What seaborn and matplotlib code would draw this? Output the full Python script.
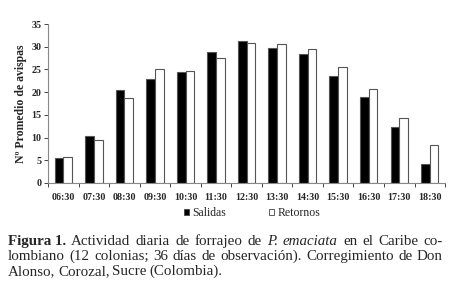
import numpy as np
import pandas as pd
import seaborn as sns
import matplotlib.pyplot as plt
from matplotlib.ticker import MultipleLocator, FixedLocator

horas = ["06:30", "07:30", "08:30", "09:30", "10:30", "11:30", "12:30",
         "13:30", "14:30", "15:30", "16:30", "17:30", "18:30"]
salidas = [5.5, 10.3, 20.5, 23.0, 24.4, 28.9, 31.3, 29.8, 28.3, 23.6, 19.0, 12.3, 4.2]
retornos = [5.8, 9.4, 18.8, 25.0, 24.7, 27.5, 30.8, 30.6, 29.4, 25.6, 20.6, 14.3, 8.3]
series = ["Salidas", "Retornos"]

df = pd.DataFrame({
    "hora": horas * 2,
    "valor": salidas + retornos,
    "serie": [series[0]] * len(horas) + [series[1]] * len(horas),
})

sns.set_style("white")
plt.rcParams["font.family"] = ["Liberation Serif", "DejaVu Serif"]

fig = plt.figure(figsize=(4.5, 2.9), dpi=100)
ax = fig.add_axes([0.107, 0.369, 0.882, 0.548])

sns.barplot(data=df, x="hora", y="valor", hue="serie", order=horas,
            hue_order=series, palette=["black", "white"], width=0.57, gap=0,
            edgecolor="#555555", linewidth=0.8, ax=ax, legend=False)

ax.set_ylim(0, 35)
ax.set_xlim(-0.5, len(horas) - 0.5)
ax.yaxis.set_major_locator(MultipleLocator(5))
ax.set_xlabel("")
ax.set_ylabel("Nº Promedio de avispas", fontsize=8.5, fontweight="bold", labelpad=3)
ax.tick_params(axis="x", which="major", length=0, labelsize=7.2, pad=7)
ax.tick_params(axis="y", which="major", length=3, width=0.6, labelsize=7.2,
               direction="out", left=True, pad=2)
ax.xaxis.set_minor_locator(FixedLocator(np.arange(-0.5, len(horas), 1)))
ax.tick_params(axis="x", which="minor", length=3, width=0.6, direction="out", bottom=True)
for lab in ax.get_xticklabels() + ax.get_yticklabels():
    lab.set_fontweight("bold")
sns.despine(ax=ax)
for s in ["left", "bottom"]:
    ax.spines[s].set_color("#888888")
    ax.spines[s].set_linewidth(0.8)

handles = [plt.Rectangle((0, 0), 1, 1, facecolor=c, edgecolor="#444444", linewidth=0.6)
           for c in ["black", "white"]]
fig.legend(handles, series, loc="center", bbox_to_anchor=(0.56, 0.265), ncol=2,
           frameon=False, prop={"family": ["Liberation Serif"], "size": 8.5},
           handlelength=0.45, handleheight=0.45, handletextpad=0.3, columnspacing=3.6)

# pie de figura, justificado
caption = [
    [("Figura 1.", "bold", "normal"), ("Actividad", "normal", "normal"), ("diaria", "normal", "normal"),
     ("de", "normal", "normal"), ("forrajeo", "normal", "normal"), ("de", "normal", "normal"),
     ("P.", "normal", "italic"), ("emaciata", "normal", "italic"), ("en", "normal", "normal"),
     ("el", "normal", "normal"), ("Caribe", "normal", "normal"), ("co-", "normal", "normal")],
    [("lombiano", "normal", "normal"), ("(12", "normal", "normal"), ("colonias;", "normal", "normal"),
     ("36", "normal", "normal"), ("días", "normal", "normal"), ("de", "normal", "normal"),
     ("observación).", "normal", "normal"), ("Corregimiento", "normal", "normal"),
     ("de", "normal", "normal"), ("Don", "normal", "normal")],
    [("Alonso,", "normal", "normal"), ("Corozal,", "normal", "normal"), ("Sucre", "normal", "normal"),
     ("(Colombia).", "normal", "normal")],
]
x0, x1 = 8 / 450, 443 / 450
ys = [1 - 245 / 290, 1 - 260 / 290, 1 - 275 / 290]
fs = 10.8
renderer = fig.canvas.get_renderer()
for i, line in enumerate(caption):
    texts = []
    widths = []
    for w, weight, style in line:
        t = fig.text(0, ys[i], w, fontsize=fs, fontweight=weight, fontstyle=style, va="baseline")
        bb = t.get_window_extent(renderer)
        texts.append(t)
        widths.append(bb.width / fig.bbox.width)
    if i < len(caption) - 1:
        gap = (x1 - x0 - sum(widths)) / (len(widths) - 1)
    else:
        gap = 2.7 / 450
    x = x0
    for t, w in zip(texts, widths):
        t.set_x(x)
        x += w + gap

fig.savefig("out.png", dpi=100)
